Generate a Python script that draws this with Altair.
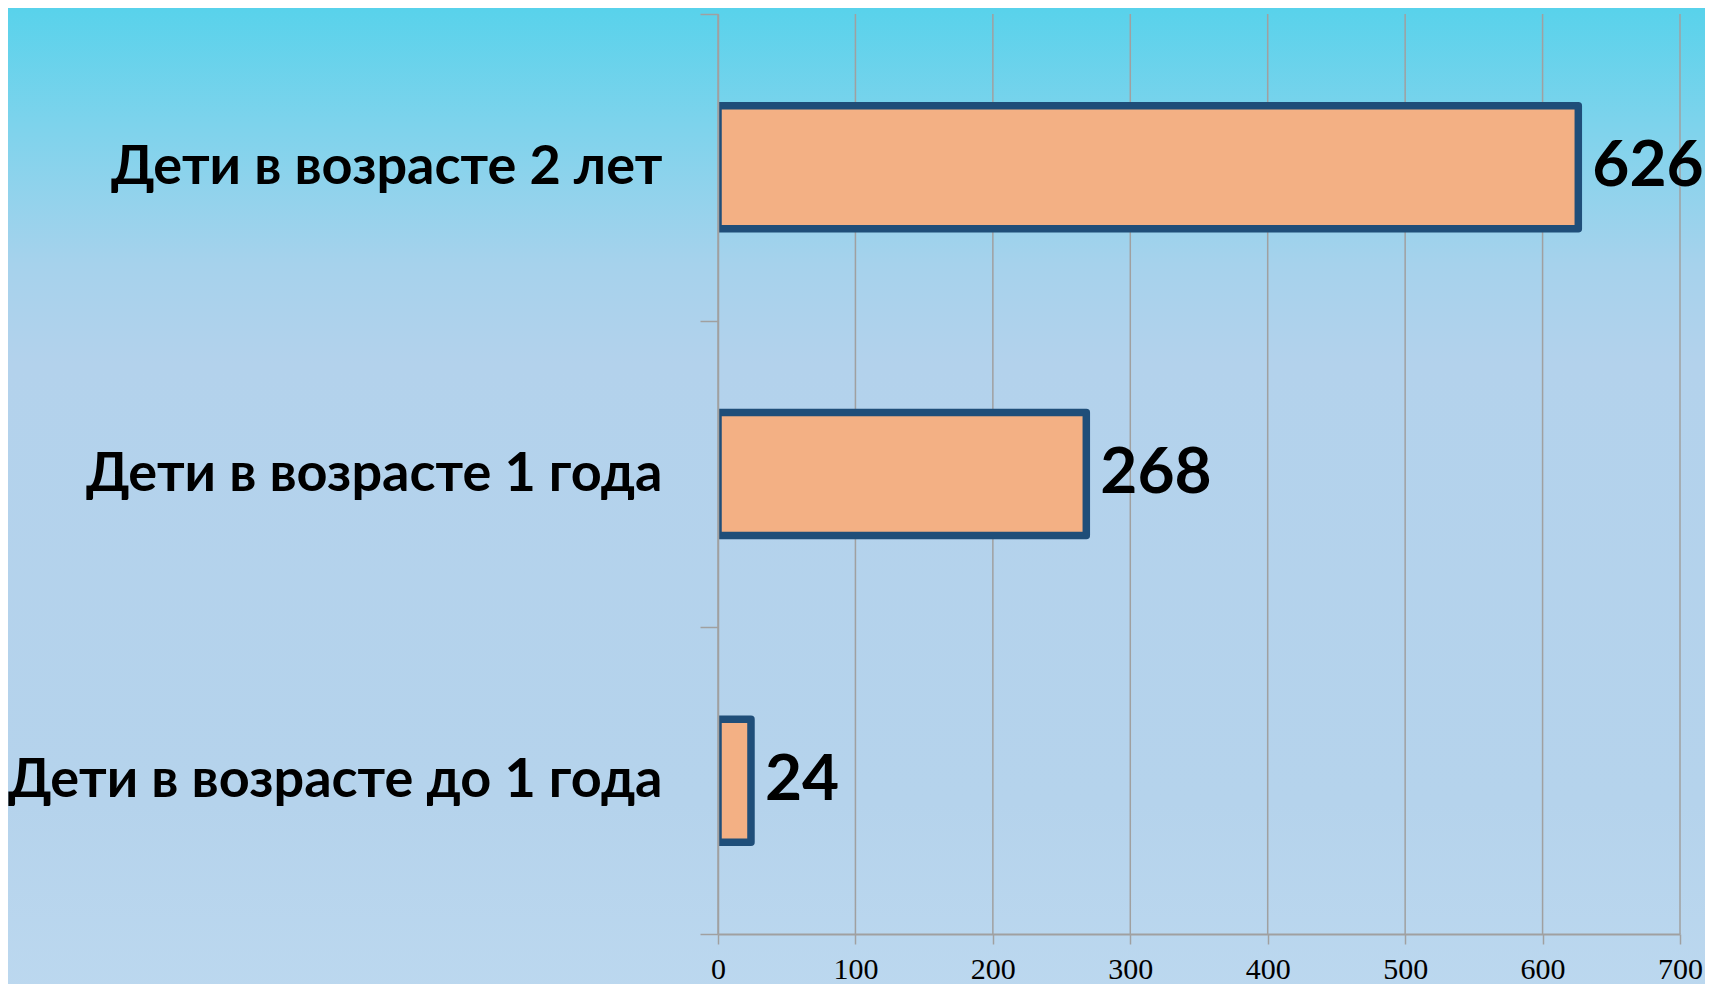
import altair as alt
import pandas as pd

categories = ["Дети в возрасте 2 лет", "Дети в возрасте 1 года", "Дети в возрасте до 1 года"]
values = [626, 268, 24]
x_ticks = [0, 100, 200, 300, 400, 500, 600, 700]

bars_df = pd.DataFrame({"cat": categories, "val": values})
grid_df = pd.DataFrame({"t": x_ticks})
bg_df = pd.DataFrame({"k": [0]})

W, H = 962, 920
LABEL_FONT = "Lato"

xscale = alt.Scale(domain=[0, 700], nice=False, zero=True)
yscale = alt.Scale(domain=categories, paddingInner=0, paddingOuter=0)

gradient = alt.LinearGradient(
    gradient="linear",
    stops=[
        alt.GradientStop(color="#57D2EB", offset=0.0),
        alt.GradientStop(color="#7DD3EC", offset=0.12),
        alt.GradientStop(color="#A6D2EC", offset=0.26),
        alt.GradientStop(color="#B3D2EC", offset=0.36),
        alt.GradientStop(color="#B5D3EC", offset=0.8),
        alt.GradientStop(color="#BCD8EF", offset=1.0),
    ],
    x1=0, x2=0, y1=0, y2=1,
)

bg = alt.Chart(bg_df).mark_rect(fill=gradient, clip=False).encode(
    x=alt.value(-720), x2=alt.value(W + 40), y=alt.value(-10), y2=alt.value(H + 70)
)

x_axis = alt.Axis(
    values=x_ticks, grid=False, domainColor="#A0A0A0", domainWidth=2,
    tickColor="#A0A0A0", tickWidth=1.5, tickSize=10,
    labelFont="Liberation Serif", labelFontSize=30, labelColor="#000000",
    labelPadding=10, labelFlush=False, zindex=1,
)

grid = alt.Chart(grid_df).mark_rule(color="#A0A0A0", strokeWidth=1.5).encode(
    x=alt.X("t:Q", scale=xscale, axis=x_axis, title=None)
)

bars = alt.Chart(bars_df).mark_bar(
    size=123, fill="#F3B084", stroke="#1F4E79", strokeWidth=7.5, strokeJoin="round", clip=True
).encode(
    x=alt.X("val:Q", scale=xscale, title=None, axis=x_axis),
    y=alt.Y(
        "cat:N",
        scale=yscale,
        sort=categories,
        title=None,
        axis=alt.Axis(
            tickBand="extent", grid=False, domainColor="#A0A0A0", domainWidth=1.5,
            tickColor="#A0A0A0", tickWidth=1.5, tickSize=18,
            labelFont=LABEL_FONT, labelFontWeight="bold", labelFontSize=54,
            labelColor="#000000", labelPadding=38, labelLimit=0, zindex=1,
        ),
    ),
)

text = alt.Chart(bars_df).mark_text(
    align="left", baseline="middle", dx=14, font=LABEL_FONT, fontWeight="bold",
    fontSize=64, color="#000000",
).encode(
    x=alt.X("val:Q", scale=xscale),
    y=alt.Y("cat:N", scale=yscale, sort=categories),
    text=alt.Text("val:Q"),
)

chart = alt.layer(bg, grid, bars, text).properties(
    width=W,
    height=H,
    padding={"left": 710, "top": 6, "right": 25, "bottom": 50},
    autosize=alt.AutoSizeParams(type="none"),
    background="#BCD8EF",
).configure_view(stroke=None)

chart.save("out.html", embed_options={"renderer": "svg", "actions": False})
